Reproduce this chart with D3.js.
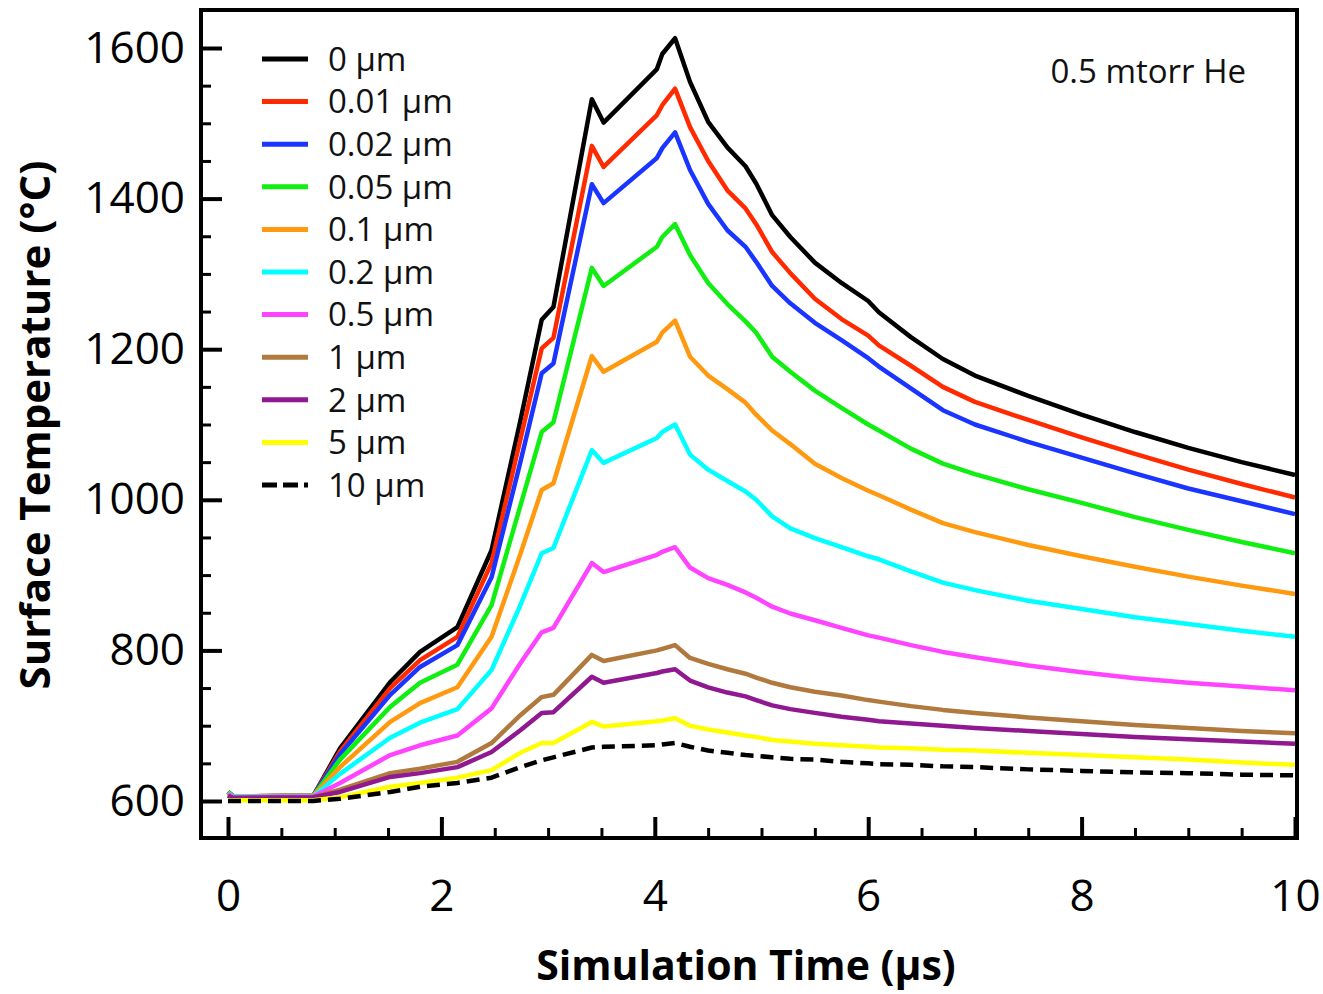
<!DOCTYPE html>
<html lang="en">
    <head>
        <meta charset="utf-8">
        <title>Surface Temperature</title>
        <script type="text/javascript" src="https://cdn.jsdelivr.net/npm/d3@7"></script>
        <style>
            body { margin: 0; background: white; }
            .axis text {
                font-family: "Open Sans", sans-serif;
                font-size: 44px;
                fill: black;
            }
            .axis line { stroke: black; }
            .axis path { display: none; }
        </style>
    </head>
    <body>
        <script type="text/javascript">

            // time grid (µs)
            var times = [0, 0.05, 0.8, 1.05, 1.52, 1.8, 2.15, 2.47, 2.74, 2.94, 3.05, 3.41, 3.52, 4.02, 4.07, 4.19, 4.33, 4.5, 4.68, 4.85, 4.95, 5.1, 5.27, 5.5, 5.75, 6.0, 6.1, 6.4, 6.7, 7, 7.5, 8, 8.5, 9, 9.5, 10];

            // series labels and colours
            var labels = ["0 µm", "0.01 µm", "0.02 µm", "0.05 µm", "0.1 µm", "0.2 µm", "0.5 µm", "1 µm", "2 µm", "5 µm", "10 µm"];
            var colors = ["#000000", "#ff2a00", "#1a35ff", "#11ee11", "#ff9a10", "#00ffff", "#ff44ff", "#b0793e", "#901890", "#ffff00", "#000000"];

            // surface temperature (°C) per series
            var t0um   = [612, 606, 607, 670, 758, 798, 831, 933, 1105, 1239, 1256, 1532, 1501, 1572, 1592, 1613, 1555, 1502, 1468, 1443, 1420, 1378, 1349, 1315, 1288, 1264, 1249, 1216, 1187, 1165, 1138, 1113, 1090, 1069, 1050, 1033];
            var t001um = [612, 606, 607, 666, 750, 787, 818, 916, 1080, 1201, 1215, 1470, 1442, 1511, 1524, 1546, 1495, 1450, 1411, 1387, 1366, 1329, 1301, 1267, 1240, 1218, 1205, 1178, 1150, 1130, 1106, 1083, 1061, 1040, 1021, 1003];
            var t002um = [612, 606, 607, 662, 741, 778, 807, 897, 1050, 1168, 1181, 1419, 1394, 1454, 1467, 1488, 1438, 1393, 1358, 1336, 1316, 1284, 1261, 1235, 1212, 1188, 1177, 1148, 1119, 1100, 1077, 1056, 1035, 1015, 998, 981];
            var t005um = [612, 606, 607, 655, 725, 757, 781, 860, 992, 1090, 1103, 1308, 1284, 1336, 1349, 1366, 1325, 1288, 1260, 1237, 1222, 1190, 1170, 1145, 1122, 1100, 1092, 1068, 1048, 1034, 1014, 996, 977, 960, 944, 929];
            var t01um  = [611, 606, 607, 645, 705, 730, 751, 818, 928, 1013, 1022, 1191, 1170, 1210, 1222, 1238, 1190, 1165, 1147, 1129, 1113, 1092, 1074, 1048, 1029, 1012, 1006, 987, 969, 957, 940, 925, 911, 898, 886, 875];
            var t02um  = [610, 606, 606, 636, 684, 704, 722, 774, 860, 929, 936, 1066, 1049, 1082, 1090, 1100, 1060, 1040, 1025, 1011, 1000, 978, 962, 949, 937, 925, 921, 905, 890, 880, 866, 855, 844, 835, 826, 818];
            var t05um  = [609, 605, 606, 624, 661, 674, 687, 723, 783, 824, 830, 916, 904, 927, 931, 937, 910, 896, 887, 877, 870, 858, 849, 840, 830, 820, 817, 807, 798, 791, 780, 771, 763, 757, 752, 747];
            var t1um   = [607, 604, 605, 615, 637, 643, 652, 677, 714, 738, 741, 794, 786, 800, 802, 807, 790, 782, 775, 769, 764, 757, 751, 745, 740, 734, 732, 726, 721, 717, 711, 706, 701, 697, 693, 690];
            var t2um   = [607, 604, 605, 612, 632, 637, 645, 665, 694, 717, 718, 765, 757, 770, 772, 775, 760, 751, 744, 739, 734, 727, 722, 717, 712, 708, 706, 703, 700, 697, 693, 689, 685, 682, 679, 676];
            var t5um   = [601, 601, 601, 605, 619, 624, 631, 641, 664, 677, 677, 705, 699, 706, 707, 710, 700, 695, 691, 687, 685, 681, 679, 676, 674, 672, 671, 670, 668, 667, 664, 661, 658, 655, 651, 648];
            var t10um  = [600, 600, 600, 603, 612, 619, 624, 631, 645, 654, 658, 671, 672, 674, 675, 677, 672, 667, 664, 661, 660, 658, 656, 655, 652, 650, 649, 648, 646, 645, 642, 640, 638, 637, 635, 634];

            var series = [t0um, t001um, t002um, t005um, t01um, t02um, t05um, t1um, t2um, t5um, t10um];

            var xTicks = [0, 2, 4, 6, 8, 10];
            var yTicks = [600, 800, 1000, 1200, 1400, 1600];

            var w = 1323, h = 994;
            var frameL = 201, frameR = 1297, frameT = 10, frameB = 838;

            var svg = d3.select("body").append("svg").attr("width", w).attr("height", h);

            var xScale = d3.scaleLinear().domain([0, 10]).range([228, 1295]);
            var yScale = d3.scaleLinear().domain([600, 1600]).range([801, 48]);

            // minor ticks
            var xMinor = d3.range(0, 10.01, 0.5).filter(function(d) { return d % 2 !== 0; });
            var yMinor = d3.range(550, 1651, 50).filter(function(d) { return d % 200 !== 0; });

            svg.append("g").attr("class", "axis")
                .attr("transform", "translate(0," + frameB + ")")
                .call(d3.axisBottom(xScale).tickValues(xMinor).tickSize(-10).tickFormat(""))
                .selectAll("line").attr("stroke-width", 3);
            svg.append("g").attr("class", "axis")
                .attr("transform", "translate(0," + frameB + ")")
                .call(d3.axisBottom(xScale).tickValues(xTicks).tickSize(-21).tickPadding(42))
                .selectAll("line").attr("stroke-width", 4);

            svg.append("g").attr("class", "axis")
                .attr("transform", "translate(" + frameL + ",0)")
                .call(d3.axisLeft(yScale).tickValues(yMinor.filter(function(d) { return yScale(d) > frameT + 3 && yScale(d) < frameB - 3; })).tickSize(-10).tickFormat(""))
                .selectAll("line").attr("stroke-width", 3);
            svg.append("g").attr("class", "axis")
                .attr("transform", "translate(" + frameL + ",0)")
                .call(d3.axisLeft(yScale).tickValues(yTicks).tickSize(-21).tickPadding(16).tickFormat(d3.format("d")))
                .selectAll("line").attr("stroke-width", 4);

            // data lines
            var line = d3.line()
                .x(function(d, i) { return xScale(times[i]); })
                .y(function(d) { return yScale(d); });

            svg.append("g").selectAll("path")
                .data(series)
                .enter()
                .append("path")
                .attr("d", line)
                .attr("fill", "none")
                .attr("stroke", function(d, i) { return colors[i]; })
                .attr("stroke-width", 4.5)
                .attr("stroke-linejoin", "round")
                .attr("stroke-dasharray", function(d, i) { return i === 10 ? "13,7" : null; });

            // frame
            svg.append("rect")
                .attr("x", frameL).attr("y", frameT)
                .attr("width", frameR - frameL).attr("height", frameB - frameT)
                .attr("fill", "none").attr("stroke", "black").attr("stroke-width", 4);

            // legend
            var legend = svg.append("g").selectAll("g")
                .data(labels)
                .enter()
                .append("g")
                .attr("transform", function(d, i) { return "translate(262," + (59 + i * 42.6) + ")"; });
            legend.append("line")
                .attr("x1", 0).attr("x2", 46)
                .attr("stroke", function(d, i) { return colors[i]; })
                .attr("stroke-width", 5)
                .attr("stroke-dasharray", function(d, i) { return i === 10 ? "15,6" : null; });
            legend.append("text")
                .attr("x", 66).attr("dy", "0.36em")
                .attr("font-family", "Open Sans, sans-serif")
                .attr("font-size", "33px")
                .attr("fill", "#111")
                .text(function(d) { return d; });

            svg.append("text")
                .attr("x", 1246).attr("y", 83)
                .attr("text-anchor", "end")
                .attr("font-family", "Open Sans, sans-serif")
                .attr("font-size", "33px")
                .attr("fill", "#111")
                .text("0.5 mtorr He");

            // axis titles
            svg.append("text")
                .attr("x", 746).attr("y", 980)
                .attr("text-anchor", "middle")
                .attr("font-family", "Open Sans, sans-serif")
                .attr("font-weight", "bold")
                .attr("font-size", "41px")
                .text("Simulation Time (µs)");

            svg.append("text")
                .attr("transform", "translate(50,425) rotate(-90)")
                .attr("text-anchor", "middle")
                .attr("font-family", "Open Sans, sans-serif")
                .attr("font-weight", "bold")
                .attr("font-size", "42px")
                .text("Surface Temperature (°C)");

        </script>
    </body>
</html>
